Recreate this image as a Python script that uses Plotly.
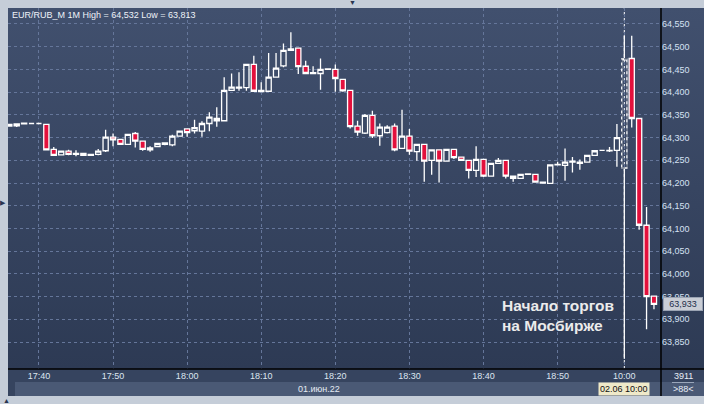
import base64
import plotly.graph_objects as go

# ---------------- data ----------------
times = [
    "17:36", "17:37", "17:38", "17:39", "17:40", "17:41", "17:42", "17:43", "17:44", "17:45",
    "17:46", "17:47", "17:48", "17:49", "17:50", "17:51", "17:52", "17:53", "17:54", "17:55",
    "17:56", "17:57", "17:58", "17:59", "18:00", "18:01", "18:02", "18:03", "18:04", "18:05",
    "18:06", "18:07", "18:08", "18:09", "18:10", "18:11", "18:12", "18:13", "18:14", "18:15",
    "18:16", "18:17", "18:18", "18:19", "18:20", "18:21", "18:22", "18:23", "18:24", "18:25",
    "18:26", "18:27", "18:28", "18:29", "18:30", "18:31", "18:32", "18:33", "18:34", "18:35",
    "18:36", "18:37", "18:38", "18:39", "18:40", "18:41", "18:42", "18:43", "18:44", "18:45",
    "18:46", "18:47", "18:48", "18:49", "18:50", "18:51", "18:52", "18:53", "18:54", "18:55",
    "18:56", "18:57", "18:58", "10:00", "10:01", "10:02", "10:03", "10:04",
]

opens = [
    64.325, 64.326, 64.330, 64.331, 64.331, 64.329, 64.274, 64.262, 64.270, 64.263,
    64.265, 64.261, 64.263, 64.271, 64.301, 64.296, 64.285, 64.309, 64.292, 64.273,
    64.280, 64.285, 64.284, 64.303, 64.319, 64.315, 64.314, 64.331, 64.342, 64.337,
    64.404, 64.409, 64.410, 64.461, 64.401, 64.402, 64.433, 64.458, 64.492, 64.497,
    64.457, 64.441, 64.441, 64.450, 64.450, 64.428, 64.404, 64.325, 64.310, 64.349,
    64.304, 64.311, 64.325, 64.276, 64.303, 64.269, 64.285, 64.250, 64.273, 64.248,
    64.274, 64.257, 64.250, 64.228, 64.252, 64.215, 64.243, 64.250, 64.215, 64.210,
    64.219, 64.219, 64.200, 64.199, 64.240, 64.239, 64.246, 64.243, 64.246, 64.261,
    64.272, 64.271, 64.272, 64.233, 64.474, 64.342, 64.107, 63.951,
]

highs = [
    64.329, 64.330, 64.332, 64.331, 64.331, 64.329, 64.279, 64.270, 64.273, 64.272,
    64.265, 64.263, 64.275, 64.317, 64.309, 64.296, 64.308, 64.312, 64.292, 64.281,
    64.287, 64.288, 64.306, 64.315, 64.319, 64.339, 64.336, 64.356, 64.367, 64.433,
    64.441, 64.444, 64.461, 64.480, 64.422, 64.486, 64.486, 64.507, 64.532, 64.497,
    64.469, 64.457, 64.474, 64.451, 64.461, 64.428, 64.404, 64.337, 64.352, 64.359,
    64.331, 64.327, 64.331, 64.361, 64.319, 64.285, 64.285, 64.273, 64.273, 64.274,
    64.274, 64.257, 64.250, 64.281, 64.252, 64.243, 64.255, 64.250, 64.215, 64.219,
    64.220, 64.219, 64.202, 64.240, 64.247, 64.276, 64.257, 64.252, 64.261, 64.271,
    64.272, 64.279, 64.330, 64.525, 64.524, 64.342, 64.147, 63.951,
]

lows = [
    64.325, 64.323, 64.330, 64.331, 64.331, 64.273, 64.261, 64.262, 64.261, 64.259,
    64.261, 64.261, 64.261, 64.268, 64.281, 64.284, 64.285, 64.278, 64.271, 64.269,
    64.280, 64.283, 64.281, 64.302, 64.302, 64.309, 64.302, 64.314, 64.324, 64.337,
    64.404, 64.403, 64.403, 64.402, 64.401, 64.402, 64.433, 64.455, 64.492, 64.440,
    64.441, 64.441, 64.405, 64.450, 64.401, 64.401, 64.320, 64.304, 64.308, 64.299,
    64.282, 64.309, 64.270, 64.276, 64.262, 64.249, 64.203, 64.218, 64.201, 64.248,
    64.253, 64.250, 64.210, 64.213, 64.213, 64.215, 64.243, 64.210, 64.203, 64.210,
    64.219, 64.202, 64.200, 64.199, 64.240, 64.205, 64.223, 64.229, 64.246, 64.261,
    64.272, 64.268, 64.236, 63.813, 64.322, 64.097, 63.878, 63.922,
]

closes = [
    64.329, 64.330, 64.332, 64.331, 64.331, 64.273, 64.261, 64.270, 64.263, 64.265,
    64.261, 64.263, 64.270, 64.301, 64.295, 64.285, 64.307, 64.292, 64.274, 64.277,
    64.287, 64.288, 64.303, 64.314, 64.311, 64.322, 64.331, 64.345, 64.337, 64.404,
    64.411, 64.411, 64.461, 64.402, 64.404, 64.433, 64.453, 64.492, 64.495, 64.456,
    64.441, 64.443, 64.450, 64.451, 64.430, 64.403, 64.324, 64.312, 64.349, 64.304,
    64.323, 64.323, 64.273, 64.303, 64.270, 64.285, 64.248, 64.273, 64.248, 64.274,
    64.256, 64.250, 64.228, 64.252, 64.215, 64.243, 64.250, 64.215, 64.210, 64.219,
    64.220, 64.202, 64.202, 64.240, 64.241, 64.246, 64.248, 64.246, 64.261, 64.271,
    64.272, 64.272, 64.300, 64.473, 64.342, 64.107, 63.950, 63.933,
]

price_ticks = [63.85, 63.90, 63.95, 64.00, 64.05, 64.10, 64.15, 64.20,
               64.25, 64.30, 64.35, 64.40, 64.45, 64.50, 64.55]
price_tick_labels = ["63,850", "63,900", "63,950", "64,000", "64,050", "64,100", "64,150",
                     "64,200", "64,250", "64,300", "64,350", "64,400", "64,450", "64,500",
                     "64,550"]

title_text = "EUR/RUB_M 1M"
note_text = "Начало торгов<br>на Мосбирже"
date_label = "01.июн.22"
cursor_label = "02.06 10:00"
volume_text = "3911"

# ---------------- derived ----------------
x = list(range(len(times)))
tick_idx = [i for i, t in enumerate(times) if t.endswith("0")]
tick_txt = [times[i] for i in tick_idx]
session_idx = times.index("10:00")


def fmt(v):
    return f"{v:.3f}".replace(".", ",")


FONT = "Liberation Sans, Arial, sans-serif"
W, H = 704, 404
ML, MR, MT, MB = 8, 43, 8, 35
PW, PH = W - ML - MR, H - MT - MB


def px_x(p):
    return (p - ML) / PW


def px_y(p):
    return (H - MB - p) / PH


svg = ('<svg xmlns="http://www.w3.org/2000/svg" width="10" height="100" preserveAspectRatio="none">'
       '<defs><linearGradient id="g" x1="0" y1="0" x2="0" y2="1">'
       '<stop offset="0" stop-color="#41506e"/><stop offset="1" stop-color="#2d3a54"/>'
       '</linearGradient></defs><rect width="10" height="100" fill="url(#g)"/></svg>')
svg_uri = "data:image/svg+xml;base64," + base64.b64encode(svg.encode()).decode()

fig = go.Figure()
fig.add_trace(go.Candlestick(
    x=x, open=opens, high=highs, low=lows, close=closes,
    increasing=dict(line=dict(color="#ffffff", width=1.3), fillcolor="rgba(0,0,0,0)"),
    decreasing=dict(line=dict(color="#ffffff", width=1.3), fillcolor="#e3103c"),
    whiskerwidth=0, hoverinfo="skip",
))

right_edge = px_x(W)
grid = dict(showgrid=True, gridcolor="#65769a", gridwidth=1, griddash="3px,3px", zeroline=False)

fig.update_layout(
    width=W, height=H,
    margin=dict(l=ML, r=MR, t=MT, b=MB, pad=0),
    paper_bgcolor="#c5cdd8",
    plot_bgcolor="rgba(0,0,0,0)",
    showlegend=False,
    boxgap=0.3, boxgroupgap=0,
    xaxis=dict(range=[-0.175, 87.95], tickmode="array", tickvals=tick_idx, ticktext=tick_txt,
               tickfont=dict(family=FONT, size=9, color="#dde5f0"), ticks="",
               showline=False, rangeslider=dict(visible=False), automargin=False, **grid),
    yaxis=dict(range=[63.7906, 64.5852], side="right", tickmode="array",
               tickvals=price_ticks, ticktext=price_tick_labels,
               tickfont=dict(family=FONT, size=9, color="#d5e1f3"), ticks="",
               showline=False, automargin=False, **grid),
    images=[dict(source=svg_uri, xref="paper", yref="paper", x=0, y=1,
                 sizex=right_edge, sizey=1, sizing="stretch", layer="below",
                 xanchor="left", yanchor="top")],
)

shapes = [
    # time strip and date strip
    dict(type="rect", xref="paper", yref="paper", x0=0, x1=right_edge, y0=px_y(382), y1=0,
         fillcolor="#36445f", line=dict(width=0), layer="below"),
    dict(type="rect", xref="paper", yref="paper", x0=0, x1=right_edge, y0=px_y(396), y1=px_y(382),
         fillcolor="#36445f", line=dict(width=0), layer="below"),
    dict(type="rect", xref="paper", yref="paper", x0=px_x(15), x1=right_edge, y0=px_y(396), y1=px_y(382),
         fillcolor="#4a5975", line=dict(width=0), layer="below"),
    # axis border lines
    dict(type="line", xref="paper", yref="paper", x0=0, x1=right_edge, y0=0, y1=0,
         line=dict(color="#000000", width=1.5)),
    dict(type="line", xref="paper", yref="paper", x0=1, x1=1, y0=px_y(396), y1=1,
         line=dict(color="#000000", width=1.5)),
    # separator in the bottom-right cell
    dict(type="line", xref="paper", yref="paper", x0=px_x(672), x1=px_x(694), y0=px_y(382.5), y1=px_y(382.5),
         line=dict(color="#9aa6ba", width=1)),
    # crosshair at session start
    dict(type="line", xref="x", yref="paper", x0=session_idx, x1=session_idx, y0=0, y1=1,
         line=dict(color="#ffffff", width=1, dash="dot"), layer="below"),
    # dotted highlight of the selected candle body
    dict(type="rect", xref="x", yref="y", x0=session_idx - 0.35, x1=session_idx + 0.35,
         y0=opens[session_idx], y1=closes[session_idx],
         line=dict(color="#2f3c57", width=1.2, dash="dot"), layer="above"),
]
fig.update_layout(shapes=shapes)

ann = [
    dict(text=f"{title_text} High = {fmt(max(highs))} Low = {fmt(min(lows))}", xref="paper", yref="paper",
         x=px_x(10), y=px_y(15), xanchor="left", yanchor="middle", showarrow=False,
         font=dict(family=FONT, size=9, color="#eef2f8")),
    dict(text=f"<b>{note_text}</b>", xref="paper", yref="paper", x=px_x(500), y=px_y(295),
         xanchor="left", yanchor="top", align="left", showarrow=False,
         font=dict(family=FONT, size=15.5, color="#ebebeb")),
    dict(text=fmt(closes[-1]), xref="paper", yref="y", x=1, y=closes[-1], xanchor="left",
         yanchor="middle", xshift=2, showarrow=False, bgcolor="#c9cdd5", bordercolor="#9aa3b3",
         borderwidth=1, borderpad=1, width=36, align="center",
         font=dict(family=FONT, size=9, color="#1e2d4a")),
    dict(text=date_label, xref="paper", yref="paper", x=px_x(342), y=px_y(389),
         xanchor="right", yanchor="middle", showarrow=False,
         font=dict(family=FONT, size=9, color="#e5ebf3")),
    dict(text=cursor_label, xref="x", yref="paper", x=session_idx, y=px_y(388.5),
         xanchor="center", yanchor="middle", showarrow=False, bgcolor="#efe9c9",
         borderpad=1, font=dict(family=FONT, size=9, color="#111111")),
    dict(text=volume_text, xref="paper", yref="paper", x=px_x(683), y=px_y(375.5),
         xanchor="center", yanchor="middle", showarrow=False,
         font=dict(family=FONT, size=9, color="#e8edf5")),
    dict(text=f"&gt;{len(times)}&lt;", xref="paper", yref="paper", x=px_x(683), y=px_y(389),
         xanchor="center", yanchor="middle", showarrow=False,
         font=dict(family=FONT, size=9, color="#e8edf5")),
    dict(text="▼", xref="paper", yref="paper", x=px_x(352), y=px_y(3), xanchor="center",
         yanchor="middle", showarrow=False, font=dict(family=FONT, size=7, color="#2a3550")),
    dict(text="▶", xref="paper", yref="paper", x=px_x(3), y=px_y(203), xanchor="center",
         yanchor="middle", showarrow=False, font=dict(family=FONT, size=7, color="#2a3550")),
    dict(text="▲", xref="paper", yref="paper", x=px_x(6), y=px_y(400), xanchor="center",
         yanchor="middle", showarrow=False, font=dict(family=FONT, size=7, color="#2a3550")),
]
fig.update_layout(annotations=ann)

fig.write_html("out.html", config={"displayModeBar": False},
               post_script="document.body.style.margin='0';")
